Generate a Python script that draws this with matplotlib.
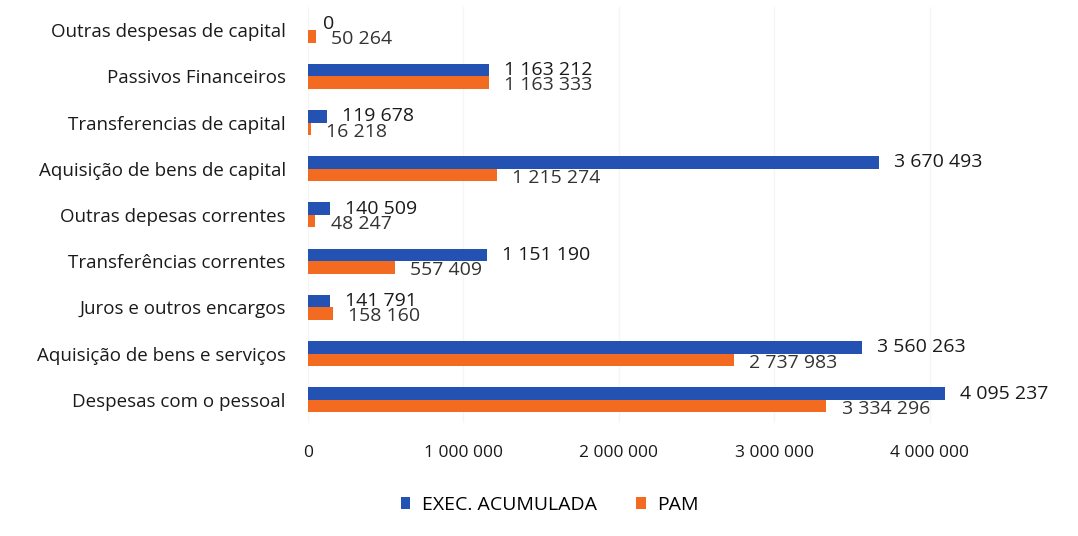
import matplotlib.pyplot as plt
import numpy as np

# categorias (de baixo para cima)
categorias = ['Despesas com o pessoal', 'Aquisição de bens e serviços',
              'Juros e outros encargos', 'Transferências correntes',
              'Outras depesas correntes', 'Aquisição de bens de capital',
              'Transferencias de capital', 'Passivos Financeiros',
              'Outras despesas de capital']
exec_acumulada = [4095237, 3560263, 141791, 1151190, 140509, 3670493, 119678, 1163212, 0]
pam = [3334296, 2737983, 158160, 557409, 48247, 1215274, 16218, 1163333, 50264]
ticks_x = [0, 1000000, 2000000, 3000000, 4000000]

azul = '#2352b3'
laranja = '#f36a21'
plt.rcParams['font.family'] = ['Open Sans', 'DejaVu Sans']

def fmt(v):
    return f'{v:,}'.replace(',', ' ')

fig = plt.figure(figsize=(10.78, 5.36), dpi=100)
ax = fig.add_axes([0.2857, 0.211, 0.649, 0.776])

y = np.arange(len(categorias))
h = 0.27
b1 = ax.barh(y + h / 2, exec_acumulada, height=h, color=azul, label='EXEC. ACUMULADA')
b2 = ax.barh(y - h / 2, pam, height=h, color=laranja, label='PAM')

for i in range(len(categorias)):
    ax.annotate(fmt(exec_acumulada[i]), (exec_acumulada[i], y[i] + h / 2),
                xytext=(11, 0), textcoords='offset points', va='center',
                fontsize=14, color='#1a1a1a')
    ax.annotate(fmt(pam[i]), (pam[i], y[i] - h / 2),
                xytext=(11, -2), textcoords='offset points', va='center',
                fontsize=14, color='#333333')

ax.set_xlim(0, 4500000)
ax.set_ylim(-0.5, len(categorias) - 0.5)
ax.set_yticks(y)
ax.set_yticklabels(categorias, fontsize=13.5, color='#1a1a1a')
ax.set_xticks(ticks_x)
ax.set_xticklabels([fmt(t) for t in ticks_x], fontsize=12.5, color='#1a1a1a')
ax.tick_params(axis='both', length=0)
ax.tick_params(axis='x', pad=16)
ax.tick_params(axis='y', pad=16)
ax.grid(axis='x', color='#f5f5f5', linewidth=1)
ax.set_axisbelow(True)
for s in ax.spines.values():
    s.set_visible(False)

fig.legend(handles=[b1, b2], loc='center', bbox_to_anchor=(0.51, 0.058), ncol=2,
           frameon=False, fontsize=14, handlelength=0.5, handleheight=0.5,
           handletextpad=0.6, columnspacing=2.0)

fig.savefig('out.png', dpi=100)
